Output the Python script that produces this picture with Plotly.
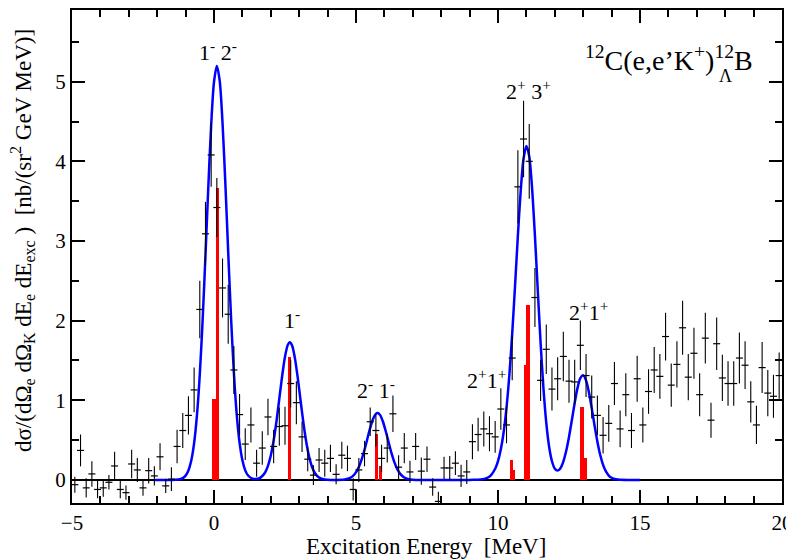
import plotly.graph_objects as go

# ---- measured data (excitation energy, cross section, error) ----
x_data = [-4.9, -4.7, -4.5, -4.3, -4.1, -3.9, -3.7, -3.5, -3.3, -3.1, -2.9, -2.7, -2.5, -2.3, -2.1,
          -1.9, -1.7, -1.5, -1.3, -1.1, -0.9, -0.7, -0.5, -0.3, -0.1, 0.1, 0.3, 0.5, 0.7, 0.9,
          1.1, 1.3, 1.5, 1.7, 1.9, 2.1, 2.3, 2.5, 2.7, 2.9, 3.1, 3.3, 3.5, 3.7, 3.9,
          4.1, 4.3, 4.5, 4.7, 4.9, 5.1, 5.3, 5.5, 5.7, 5.9, 6.1, 6.3, 6.5, 6.7, 6.9,
          7.1, 7.3, 7.5, 7.7, 7.9, 8.1, 8.3, 8.5, 8.7, 8.9, 9.1, 9.3, 9.5, 9.7, 9.9,
          10.1, 10.3, 10.5, 10.7, 10.9, 11.1, 11.3, 11.5, 11.7, 11.9, 12.1, 12.3, 12.5, 12.7, 12.9,
          13.1, 13.3, 13.5, 13.7, 13.9, 14.1, 14.3, 14.5, 14.7, 14.9, 15.1, 15.3, 15.5, 15.7, 15.9,
          16.1, 16.3, 16.5, 16.7, 16.9, 17.1, 17.3, 17.5, 17.7, 17.9, 18.1, 18.3, 18.5, 18.7, 18.9,
          19.1, 19.3, 19.5, 19.7, 19.9]
y_data = [-0.06, 0.37, -0.10, 0.075, -0.12, -0.10, -0.03, 0.175, -0.12, -0.16, 0.20, 0.125, -0.10, 0.116, 0.05,
          0.29, -0.075, 0.01, 0.42, 0.62, 0.81, 1.13, 2.14, 3.09, 4.08, 3.42, 2.41, 2.08, 1.38, 0.82,
          0.45, 0.69, 0.21, 0.40, 0.79, 0.42, 0.67, 0.68, 1.21, 0.97, 0.54, 0.26, 0.06, 0.25, 0.21,
          0.27, 0.07, 0.31, 0.27, -0.12, 0.125, 0.33, 0.73, 0.62, 0.27, 0.40, 0.83, 0.16, 0.40, 0.10,
          0.42, 0.11, 0.26, -0.09, -0.27, 0.15, 0.15, 0.21, 0.05, 0.10, 0.48, 0.57, 0.64, 0.58, 0.54,
          0.89, 0.69, 1.53, 3.68, 4.28, 4.00, 2.29, 1.25, 1.64, 1.14, 1.27, 1.55, 1.24, 1.23, 1.69,
          1.31, 1.04, 0.81, 0.56, 0.71, 1.21, 0.64, 1.07, 0.62, 1.27, 0.69, 1.11, 1.38, 1.30, 1.80,
          1.19, 1.45, 1.91, 1.29, 1.59, 1.07, 1.78, 0.75, 1.71, 1.28, 1.21, 1.21, 1.53, 1.44, 0.98,
          0.69, 1.41, 1.09, 1.05, 1.31]
y_err = [0.10, 0.20, 0.12, 0.16, 0.11, 0.11, 0.09, 0.18, 0.11, 0.09, 0.18, 0.15, 0.10, 0.16, 0.12,
         0.17, 0.09, 0.15, 0.21, 0.22, 0.24, 0.28, 0.36, 0.40, 0.40, 0.37, 0.37, 0.37, 0.30, 0.26,
         0.20, 0.22, 0.17, 0.21, 0.23, 0.21, 0.24, 0.24, 0.30, 0.27, 0.19, 0.15, 0.125, 0.15, 0.17,
         0.17, 0.125, 0.17, 0.16, 0.14, 0.15, 0.16, 0.18, 0.20, 0.17, 0.18, 0.23, 0.15, 0.19, 0.14,
         0.17, 0.17, 0.16, 0.11, 0.12, 0.14, 0.15, 0.15, 0.14, 0.15, 0.22, 0.21, 0.22, 0.22, 0.20,
         0.26, 0.23, 0.28, 0.46, 0.48, 0.47, 0.37, 0.26, 0.31, 0.27, 0.27, 0.31, 0.27, 0.28, 0.31,
         0.27, 0.27, 0.25, 0.23, 0.23, 0.27, 0.23, 0.27, 0.22, 0.29, 0.22, 0.28, 0.29, 0.28, 0.30,
         0.27, 0.29, 0.34, 0.29, 0.32, 0.27, 0.32, 0.22, 0.33, 0.29, 0.28, 0.28, 0.32, 0.30, 0.26,
         0.24, 0.32, 0.29, 0.27, 0.29]

# ---- theoretical strengths (red bars) ----
theory_x = [0.0, 0.13, 2.67, 5.73, 5.85, 10.47, 10.53, 10.97, 11.06, 12.96, 13.07]
theory_y = [1.02, 3.66, 1.54, 0.575, 0.18, 0.25, 0.12, 1.44, 2.19, 0.91, 0.27]

# ---- folded theoretical spectrum (blue curve) ----
curve_x = [-2.1, -1.5, -1.35, -1.2, -1.1, -1.0, -0.9, -0.8, -0.7, -0.6, -0.5, -0.4, -0.3, -0.2, -0.1,
           0.0, 0.1, 0.2, 0.3, 0.4, 0.5, 0.6, 0.7, 0.8, 0.9, 1.0, 1.1, 1.2, 1.35, 1.5,
           1.65, 1.8, 1.9, 2.0, 2.1, 2.2, 2.3, 2.4, 2.5, 2.6, 2.67, 2.75, 2.85, 2.95, 3.05,
           3.15, 3.25, 3.35, 3.45, 3.55, 3.7, 3.85, 4.0, 4.3, 4.6, 4.8, 4.95, 5.1, 5.2, 5.3,
           5.4, 5.5, 5.6, 5.7, 5.77, 5.85, 5.95, 6.05, 6.15, 6.25, 6.35, 6.45, 6.55, 6.7, 6.85,
           7.0, 7.3, 9.0, 9.4, 9.6, 9.75, 9.9, 10.0, 10.1, 10.2, 10.3, 10.4, 10.5, 10.6, 10.7,
           10.8, 10.9, 11.0, 11.1, 11.2, 11.3, 11.4, 11.5, 11.6, 11.7, 11.8, 11.9, 12.0, 12.1, 12.2,
           12.3, 12.4, 12.5, 12.6, 12.7, 12.8, 12.9, 13.0, 13.1, 13.2, 13.3, 13.4, 13.5, 13.6, 13.7,
           13.8, 13.9, 14.0, 14.15, 14.3, 14.6, 15.0]
curve_y = [0.0, 0.0, 0.002, 0.009, 0.023, 0.054, 0.119, 0.243, 0.461, 0.812, 1.326, 2.008, 2.823, 3.681, 4.453,
           4.996, 5.198, 5.014, 4.485, 3.72, 2.86, 2.039, 1.346, 0.824, 0.467, 0.246, 0.120, 0.055, 0.016, 0.012,
           0.032, 0.093, 0.176, 0.306, 0.494, 0.737, 1.020, 1.305, 1.547, 1.697, 1.729, 1.687, 1.526, 1.278, 0.991,
           0.711, 0.472, 0.290, 0.165, 0.087, 0.029, 0.008, 0.002, 0.0, 0.005, 0.026, 0.071, 0.163, 0.258, 0.379,
           0.517, 0.653, 0.764, 0.829, 0.839, 0.813, 0.730, 0.608, 0.470, 0.337, 0.224, 0.138, 0.079, 0.030, 0.009,
           0.003, 0.0, 0.0, 0.004, 0.021, 0.058, 0.140, 0.237, 0.385, 0.602, 0.908, 1.319, 1.837, 2.437, 3.065,
           3.632, 4.036, 4.193, 4.062, 3.661, 3.067, 2.385, 1.721, 1.153, 0.717, 0.417, 0.234, 0.141, 0.117, 0.147,
           0.229, 0.362, 0.539, 0.749, 0.966, 1.155, 1.279, 1.313, 1.250, 1.102, 0.901, 0.683, 0.480, 0.313, 0.189,
           0.106, 0.055, 0.027, 0.008, 0.002, 0.0, 0.0]

# ---- peak labels ----
peak_labels = ["1<sup>-</sup> 2<sup>-</sup>", "1<sup>-</sup>", "2<sup>-</sup> 1<sup>-</sup>",
               "2<sup>+</sup>1<sup>+</sup>", "2<sup>+</sup> 3<sup>+</sup>", "2<sup>+</sup>1<sup>+</sup>"]
peak_label_x = [0.14, 2.75, 5.69, 9.61, 11.06, 13.19]
peak_label_y = [5.39, 2.02, 1.14, 1.27, 4.90, 2.12]

x_ticks = [-5, 0, 5, 10, 15, 20]
y_ticks = [0, 1, 2, 3, 4, 5]

FONT = "Liberation Serif"

# page body has an 8px margin: figure is sized/placed so the frame lands where the reference has it
W, H = 786, 551
ML, MR, MT, MB = 64, 12, 0, 56
PW, PH = W - ML - MR, H - MT - MB


def px_to_paper_x(px):
    return (px - 8 - ML) / PW


def px_to_paper_y(py):
    return 1 - (py - 8 - MT) / PH


fig = go.Figure()

fig.add_trace(go.Scatter(x=curve_x, y=curve_y, mode="lines",
                         line=dict(color="#0000ff", width=2.5, shape="spline", smoothing=0.8),
                         hoverinfo="skip", showlegend=False))

fig.add_trace(go.Bar(x=theory_x, y=theory_y, width=0.115,
                     marker=dict(color="#ff0000", line=dict(width=0)),
                     showlegend=False))

fig.add_trace(go.Scatter(x=x_data, y=y_data, mode="markers",
                         marker=dict(symbol="line-ew", size=5, color="black",
                                     line=dict(width=1.2, color="black")),
                         error_y=dict(type="data", array=y_err, thickness=1.1, width=0, color="black"),
                         showlegend=False))

annotations = []
for t, xx, yy in zip(peak_labels, peak_label_x, peak_label_y):
    annotations.append(dict(x=xx, y=yy, xref="x", yref="y", text=t, showarrow=False,
                            font=dict(family=FONT, size=22, color="black"),
                            xanchor="center", yanchor="middle"))

annotations.append(dict(x=px_to_paper_x(755), y=px_to_paper_y(57), xref="paper", yref="paper",
                        text="<sup>12</sup>C(e,e’K<sup>+</sup>)<sup>12</sup>B",
                        showarrow=False, font=dict(family=FONT, size=28, color="black"),
                        xanchor="right", yanchor="middle"))
annotations.append(dict(x=px_to_paper_x(725), y=px_to_paper_y(74), xref="paper", yref="paper",
                        text="Λ", showarrow=False, font=dict(family=FONT, size=18, color="black"),
                        xanchor="center", yanchor="middle"))

annotations.append(dict(x=px_to_paper_x(426), y=px_to_paper_y(547), xref="paper", yref="paper",
                        text="Excitation Energy  [MeV]", showarrow=False,
                        font=dict(family=FONT, size=23, color="black"),
                        xanchor="center", yanchor="middle"))
annotations.append(dict(x=px_to_paper_x(22), y=px_to_paper_y(240), xref="paper", yref="paper",
                        textangle=-90,
                        text="dσ/(dΩ<sub>e</sub> dΩ<sub>K</sub> dE<sub>e</sub> dE<sub>exc</sub> )  [nb/(sr<sup>2</sup> GeV MeV)]",
                        showarrow=False, font=dict(family=FONT, size=23, color="black"),
                        xanchor="center", yanchor="middle"))

fig.update_layout(
    width=W, height=H,
    margin=dict(l=ML, r=MR, t=MT, b=MB, pad=0),
    paper_bgcolor="white", plot_bgcolor="white",
    font=dict(family=FONT, size=20, color="black"),
    bargap=0, barmode="overlay",
    annotations=annotations,
    showlegend=False,
)

fig.update_xaxes(range=[-5, 20], tickmode="array", tickvals=x_ticks,
                 ticks="inside", ticklen=13, tickwidth=1.5, tickcolor="black",
                 minor=dict(ticks="inside", ticklen=7, tickwidth=1.5, dtick=1, tick0=0,
                            tickcolor="black", showgrid=False),
                 showline=True, linewidth=2, linecolor="black", mirror="allticks",
                 showgrid=False, zeroline=False,
                 tickfont=dict(family=FONT, size=21, color="black"))
fig.update_yaxes(range=[-0.29, 5.9], tickmode="array", tickvals=y_ticks,
                 ticks="inside", ticklen=13, tickwidth=1.5, tickcolor="black",
                 minor=dict(ticks="inside", ticklen=7, tickwidth=1.5, dtick=0.5, tick0=0,
                            tickcolor="black", showgrid=False),
                 showline=True, linewidth=2, linecolor="black", mirror="allticks",
                 showgrid=False, zeroline=True, zerolinecolor="black", zerolinewidth=1.5,
                 tickfont=dict(family=FONT, size=21, color="black"))

fig.write_html("out.html")
